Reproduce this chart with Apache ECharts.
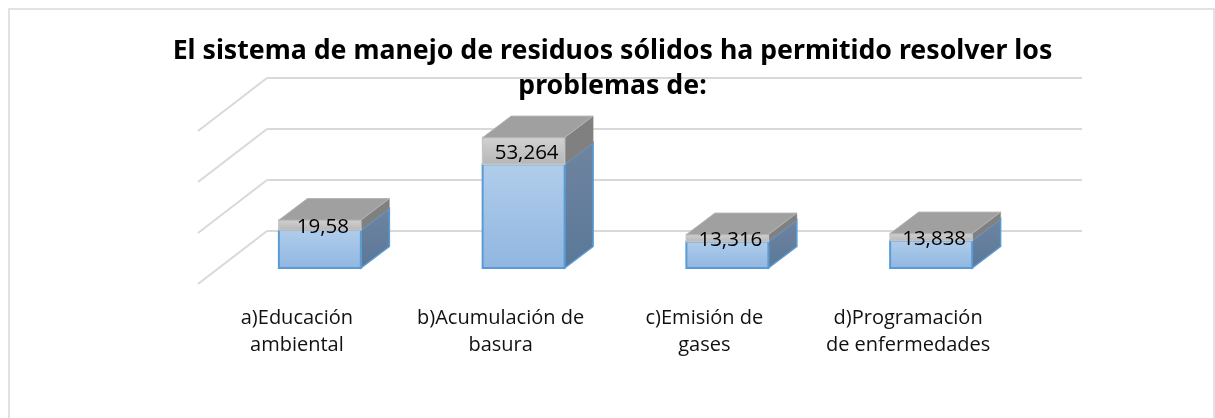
<!DOCTYPE html>
<html><head><meta charset="utf-8">
<style>html,body{margin:0;padding:0;background:#fff}#c{width:1215px;height:418px}</style>
<script src="https://cdn.jsdelivr.net/npm/echarts@6/dist/echarts.min.js"></script>
</head><body><div id="c"></div>
<script>
const categories = ['a)Educación\nambiental','b)Acumulación de\nbasura','c)Emisión de\ngases','d)Programación\nde enfermedades'];
const blueValues = [15.5, 42.4, 10.8, 11.2];
const capValues = [4.08, 10.86, 2.85, 2.85];
const valueLabels = ['19,58','53,264','13,316','13,838'];
const wallTicks = [0, 20, 40, 60];
const titleText = 'El sistema de manejo de residuos sólidos ha permitido resolver los\nproblemas de:';

const FRONT = {dx:-49, dy:37, scale:0.96, width:82, depthX:28.5, depthY:-21.5};
const grad = (a,b) => ({type:'linear',x:0,y:0,x2:0,y2:1,colorStops:[{offset:0,color:a},{offset:1,color:b}]});

function boxItem(isCap){
  return function(params, api){
    const i = api.value(0), from = api.value(1), to = api.value(2);
    const base = api.coord([i,0]);
    const yOf = v => base[1] + FRONT.dy - (base[1]-api.coord([i,v])[1])*FRONT.scale;
    const xl = base[0]+FRONT.dx-FRONT.width/2, xr = xl+FRONT.width;
    const yb = yOf(from), yt = yOf(to), dx = FRONT.depthX, dy = FRONT.depthY;
    const stroke = isCap ? '#c4c4c4' : '#5b9bd5';
    const children = [
      {type:'polygon',shape:{points:[[xr,yt],[xr+dx,yt+dy],[xr+dx,yb+dy],[xr,yb]]},
       style:{fill:isCap?'#808080':grad('#6f84a0','#5a7898'),stroke:isCap?'#8a8a8a':stroke,lineWidth:isCap?0.5:1.5}},
      {type:'rect',shape:{x:xl,y:yt,width:FRONT.width,height:yb-yt},
       style:{fill:isCap?grad('#d2d2d2','#b6b6b6'):grad('#b1cdeb','#90b6e1'),stroke:stroke,lineWidth:isCap?1.5:2}}
    ];
    if(isCap){
      children.push({type:'polygon',shape:{points:[[xl,yt],[xl+dx,yt+dy],[xr+dx,yt+dy],[xr,yt]]},
        style:{fill:'#a0a0a0',stroke:'#b4b4b4',lineWidth:1}});
      children.push({type:'text',style:{text:valueLabels[i],x:(xl+xr)/2+3,y:(yt+yb)/2+2,align:'center',verticalAlign:'middle',
        font:'20.5px "Open Sans"',fill:'#000'}});
    }
    return {type:'group',children};
  };
}
const blueData = blueValues.map((v,i)=>[i,0,v]);
const capData = capValues.map((v,i)=>[i,blueValues[i],blueValues[i]+v]);

const chart = echarts.init(document.getElementById('c'),null,{renderer:'canvas'});
chart.setOption({
  animation:false,
  backgroundColor:'#fff',
  graphic:[{type:'rect',silent:true,z:-10,shape:{x:9,y:9,width:1205,height:420},style:{fill:'#fff',stroke:'#d9d9d9',lineWidth:1.5}}],
  title:{text:titleText,left:607.5,top:29,textAlign:'center',z:20,
    textStyle:{fontFamily:'Noto Sans',fontWeight:'bold',fontSize:26.7,lineHeight:35,color:'#000'}},
  grid:{left:267,right:133,top:78,bottom:187},
  xAxis:{type:'category',data:categories,axisLine:{show:false},axisTick:{show:false},splitLine:{show:false},
    axisLabel:{interval:0,margin:74,color:'#111',fontFamily:'Open Sans',fontSize:20,lineHeight:27,padding:[0,144,0,0]}},
  yAxis:{type:'value',min:0,max:60,interval:20,axisLabel:{show:false},axisLine:{show:false},axisTick:{show:false},
    splitLine:{show:true,lineStyle:{color:'#d9d9d9',width:2}}},
  series:[
    {name:'floor',type:'custom',silent:true,z:1,clip:false,data:wallTicks.map(t=>[0,t]),
     renderItem(params,api){
       const x=params.coordSys.x, y=api.coord([0,api.value(1)])[1];
       return {type:'line',shape:{x1:x,y1:y,x2:x-69,y2:y+53},style:{stroke:'#d9d9d9',lineWidth:2,fill:null}};
     }},
    {name:'Base',type:'custom',z:3,clip:false,data:blueData,renderItem:boxItem(false)},
    {name:'Valor',type:'custom',z:4,clip:false,data:capData,renderItem:boxItem(true)}
  ]
});
</script></body></html>
